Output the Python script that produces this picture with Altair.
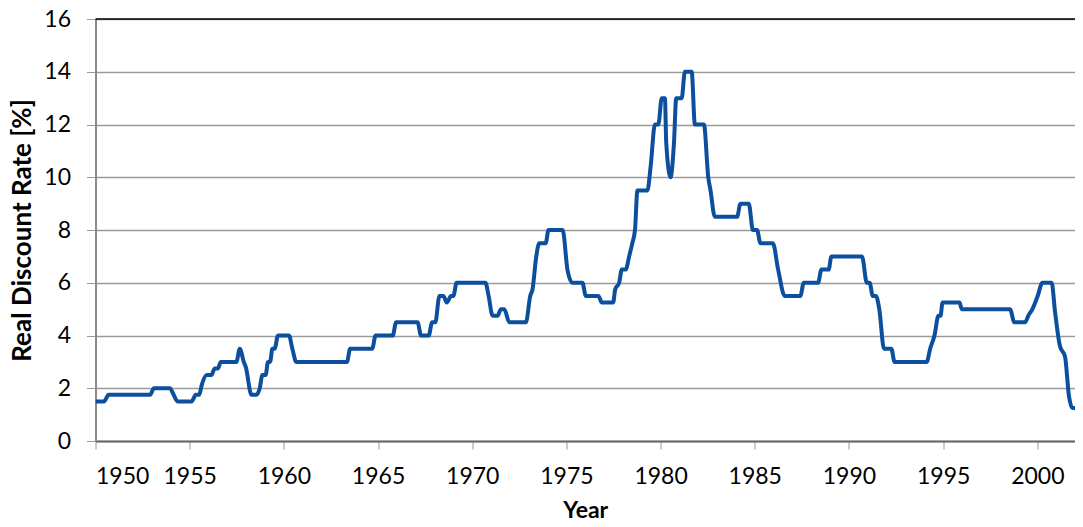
import altair as alt
import pandas as pd

years = [1950.0, 1950.45, 1950.7, 1952.9, 1953.1, 1953.95, 1954.15, 1954.35, 1955.1, 1955.33,
         1955.5, 1955.65, 1955.9, 1956.15, 1956.33, 1956.5, 1956.65, 1957.48, 1957.66, 1957.87,
         1957.98, 1958.28, 1958.54, 1958.72, 1958.86, 1959.03, 1959.16, 1959.27, 1959.39, 1959.51,
         1959.69, 1960.27, 1960.45, 1960.66, 1963.35, 1963.52, 1964.69, 1964.87, 1965.78, 1965.96,
         1967.1, 1967.28, 1967.69, 1967.87, 1968.04, 1968.26, 1968.47, 1968.65, 1968.88, 1969.0,
         1969.17, 1970.7, 1970.87, 1971.08, 1971.35, 1971.52, 1971.7, 1971.97, 1972.85, 1973.08,
         1973.2, 1973.4, 1973.56, 1973.9, 1974.05, 1974.6, 1974.8, 1975.06, 1975.32, 1975.85,
         1976.03, 1976.7, 1976.88, 1977.48, 1977.59, 1977.8, 1977.94, 1978.15, 1978.33, 1978.5,
         1978.64, 1978.77, 1979.3, 1979.47, 1979.7, 1979.88, 1980.06, 1980.23, 1980.3, 1980.53,
         1980.71, 1980.83, 1981.12, 1981.29, 1981.65, 1981.82, 1982.3, 1982.53, 1982.65, 1982.88,
         1984.06, 1984.24, 1984.68, 1984.9, 1985.12, 1985.3, 1985.96, 1986.24, 1986.59, 1987.42,
         1987.6, 1988.36, 1988.54, 1988.92, 1989.07, 1990.69, 1990.95, 1991.1, 1991.26, 1991.43,
         1991.61, 1991.86, 1992.25, 1992.42, 1994.13, 1994.31, 1994.54, 1994.75, 1994.86, 1994.97,
         1995.87, 1995.99, 1998.55, 1998.78, 1999.35, 1999.52, 1999.74, 2000.02, 2000.27, 2000.76,
         2000.94, 2001.2, 2001.47, 2001.68, 2001.86, 2002.4]
rates = [1.5, 1.5, 1.75, 1.75, 2.0, 2.0, 1.75, 1.5, 1.5, 1.75,
         1.75, 2.15, 2.5, 2.5, 2.75, 2.75, 3.0, 3.0, 3.5, 3.0,
         2.8, 1.75, 1.75, 2.0, 2.5, 2.5, 3.0, 3.0, 3.5, 3.5,
         4.0, 4.0, 3.5, 3.0, 3.0, 3.5, 3.5, 4.0, 4.0, 4.5,
         4.5, 4.0, 4.0, 4.5, 4.5, 5.5, 5.5, 5.25, 5.5, 5.5,
         6.0, 6.0, 5.5, 4.75, 4.75, 5.0, 5.0, 4.5, 4.5, 5.5,
         5.75, 7.0, 7.5, 7.5, 8.0, 8.0, 8.0, 6.47, 6.0, 6.0,
         5.5, 5.5, 5.25, 5.25, 5.75, 6.0, 6.5, 6.5, 7.0, 7.5,
         8.0, 9.5, 9.5, 10.4, 12.0, 12.0, 13.0, 13.0, 11.3, 10.0,
         11.3, 13.0, 13.0, 14.0, 14.0, 12.0, 12.0, 10.0, 9.5, 8.5,
         8.5, 9.0, 9.0, 8.0, 8.0, 7.5, 7.5, 6.5, 5.5, 5.5,
         6.0, 6.0, 6.5, 6.5, 7.0, 7.0, 6.0, 6.0, 5.5, 5.5,
         5.0, 3.5, 3.5, 3.0, 3.0, 3.5, 4.0, 4.75, 4.75, 5.25,
         5.25, 5.0, 5.0, 4.5, 4.5, 4.75, 5.0, 5.5, 6.0, 6.0,
         4.9, 3.6, 3.2, 1.7, 1.25, 1.25]

x_ticks = [1950, 1955, 1960, 1965, 1970, 1975, 1980, 1985, 1990, 1995, 2000]
y_ticks = [0, 2, 4, 6, 8, 10, 12, 14, 16]

df = pd.DataFrame({"Year": years, "Rate": rates})

FONT = "Lato"

x_scale = alt.Scale(domain=[1950, 2002.0], nice=False, zero=False)
y_scale = alt.Scale(domain=[0, 16], nice=False)

line = alt.Chart(df).mark_line(color="#0b4f9e", strokeWidth=4, interpolate="monotone", clip=True).encode(
    x=alt.X("Year:Q", scale=x_scale,
            axis=alt.Axis(values=x_ticks, format="d", title="Year", grid=False,
                          tickSize=8, tickColor="#999999", domainColor="#666666", domainWidth=2,
                          labelFontSize=23, labelFont=FONT, labelColor="#000000", labelPadding=16,
                          titleFont=FONT, titleFontSize=23, titleFontWeight="bold", titleColor="#000000",
                          titlePadding=11)),
    y=alt.Y("Rate:Q", scale=y_scale,
            axis=alt.Axis(values=y_ticks, title="Real Discount Rate [%]", grid=True,
                          gridColor="#9a9a9a", gridWidth=1.5,
                          tickSize=9, tickColor="#9a9a9a", domainColor="#8a8a8a", domainWidth=2,
                          labelFontSize=23, labelFont=FONT, labelColor="#000000", labelPadding=16,
                          titleFont=FONT, titleFontSize=26, titleFontWeight="bold", titleColor="#000000",
                          titlePadding=8)),
)

top_rule = alt.Chart(pd.DataFrame({"y": [16]})).mark_rule(color="#000000", strokeWidth=1.5).encode(
    y=alt.Y("y:Q", scale=y_scale)
)

chart = alt.layer(line, top_rule).properties(
    width=979.5, height=422,
    autosize=alt.AutoSizeParams(type="none"),
    padding={"left": 87.5, "top": 11, "right": 0, "bottom": 86},
).configure_view(stroke=None).configure(background="white")

chart.save("out.html", embed_options={"renderer": "svg", "actions": False})
